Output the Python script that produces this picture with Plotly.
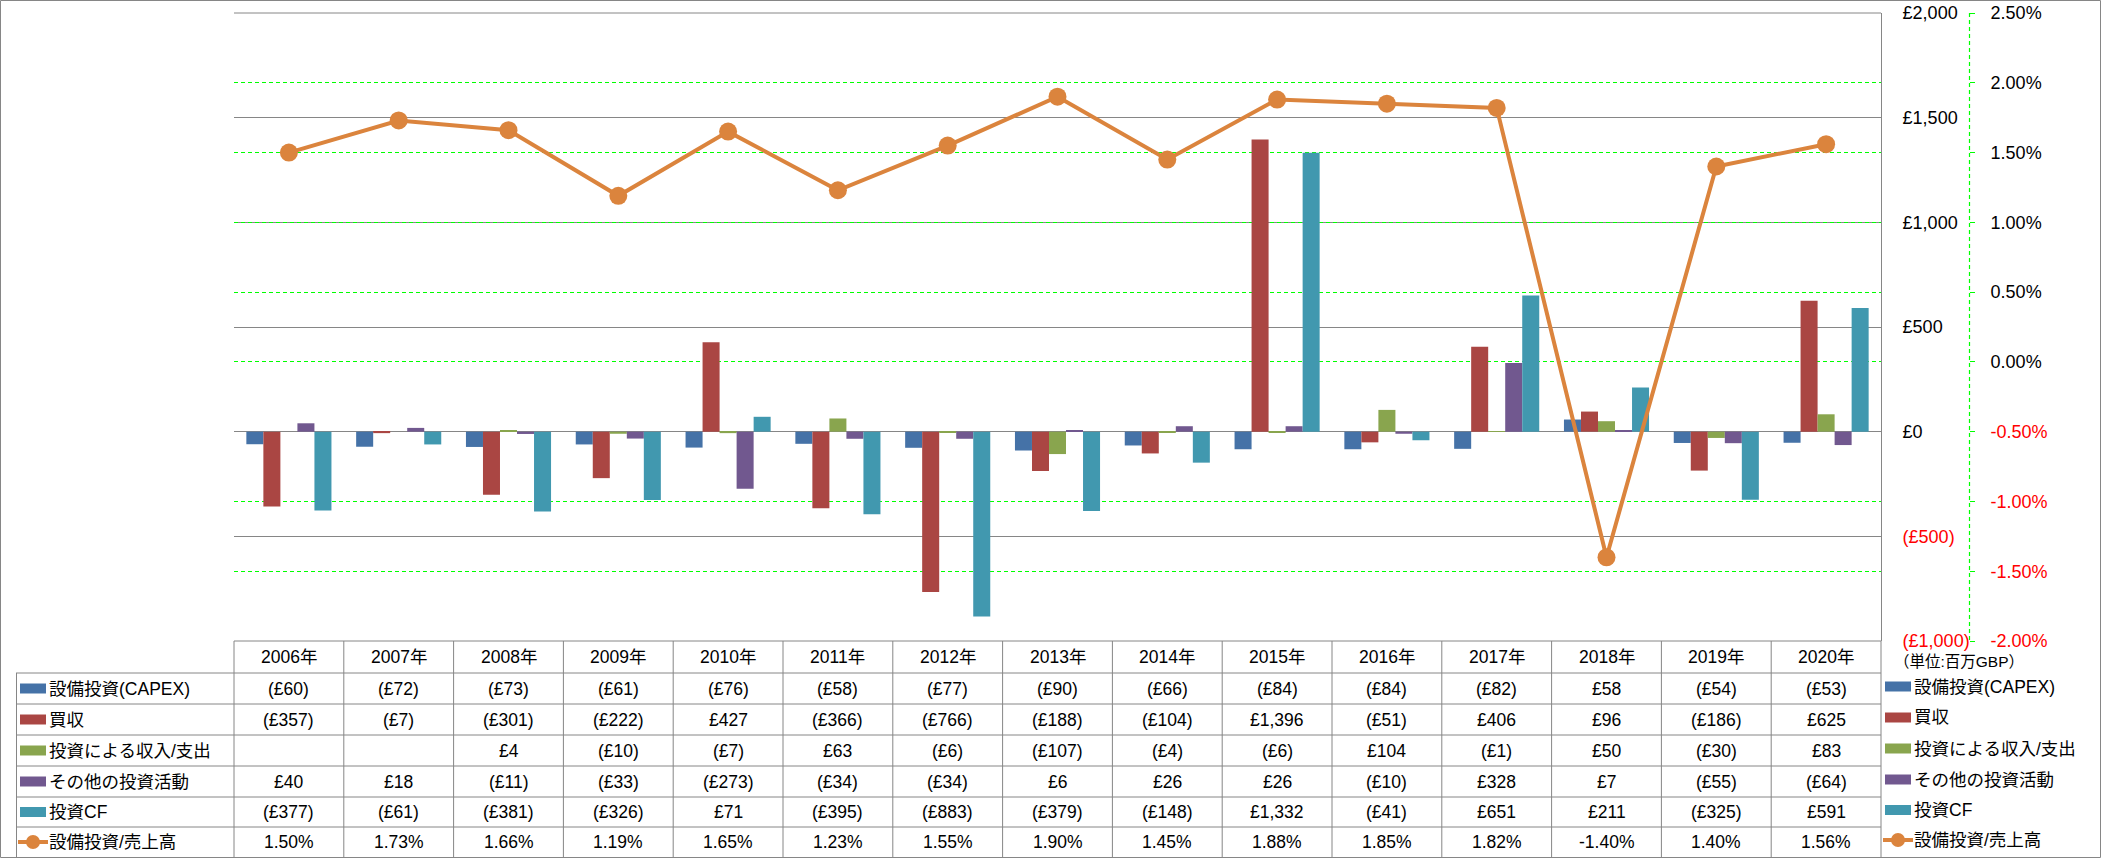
import plotly.graph_objects as go

# ---------------- data ----------------
years = ["2006年", "2007年", "2008年", "2009年", "2010年", "2011年", "2012年", "2013年",
         "2014年", "2015年", "2016年", "2017年", "2018年", "2019年", "2020年"]
capex = [-60, -72, -73, -61, -76, -58, -77, -90, -66, -84, -84, -82, 58, -54, -53]
acquisition = [-357, -7, -301, -222, 427, -366, -766, -188, -104, 1396, -51, 406, 96, -186, 625]
inv_income = [None, None, 4, -10, -7, 63, -6, -107, -4, -6, 104, -1, 50, -30, 83]
other_inv = [40, 18, -11, -33, -273, -34, -34, 6, 26, 26, -10, 328, 7, -55, -64]
inv_cf = [-377, -61, -381, -326, 71, -395, -883, -379, -148, 1332, -41, 651, 211, -325, 591]
capex_ratio = [1.50, 1.73, 1.66, 1.19, 1.65, 1.23, 1.55, 1.90, 1.45, 1.88, 1.85, 1.82, -1.40, 1.40, 1.56]

bar_names = ["設備投資(CAPEX)", "買収", "投資による収入/支出", "その他の投資活動", "投資CF"]
line_name = "設備投資/売上高"
unit_label = "（単位:百万GBP）"

left_ticks = [-1000, -500, 0, 500, 1000, 1500, 2000]
right_ticks = [-2.0, -1.5, -1.0, -0.5, 0.0, 0.5, 1.0, 1.5, 2.0, 2.5]

# ---------------- styles ----------------
bar_colors = ["#4572A7", "#AA4643", "#89A54E", "#71588F", "#4198AF"]
line_color = "#DB843D"
grey = "#868686"
green = "#00FF00"
red = "#FF0000"
FONT = "Liberation Sans, Noto Sans CJK JP, sans-serif"
TFS = 17.5

W, H = 2101, 858
PL, PR, PT, PB = 234, 1881, 13, 641


def px_x(x):
    return (x - PL) / (PR - PL)


def px_y(y):
    return (PB - y) / (PB - PT)


def fmt_money(v):
    if v is None:
        return ""
    s = "£{:,}".format(abs(v))
    return "(" + s + ")" if v < 0 else s


def fmt_pct(v):
    return "{:.2f}%".format(v)


def fmt_left_tick(v):
    s = fmt_money(v)
    return '<span style="color:%s">%s</span>' % (red, s) if v < 0 else s


def fmt_right_tick(v):
    s = fmt_pct(v)
    return '<span style="color:%s">%s</span>' % (red, s) if v < -0.001 else s


bar_series = [capex, acquisition, inv_income, other_inv, inv_cf]

fig = go.Figure()
for name, vals, col in zip(bar_names, bar_series, bar_colors):
    fig.add_trace(go.Bar(x=years, y=vals, name=name, marker=dict(color=col, line=dict(width=0)),
                         showlegend=False))
fig.add_trace(go.Scatter(x=years, y=capex_ratio, name=line_name, yaxis="y2", mode="lines+markers",
                         line=dict(color=line_color, width=4),
                         marker=dict(size=18, color=line_color), showlegend=False))

shapes = []
annotations = []


def hline(y, x0, x1, color=grey, width=1, layer="above", dash=None):
    d = dict(type="line", xref="paper", yref="paper", x0=px_x(x0), x1=px_x(x1), y0=px_y(y), y1=px_y(y),
             line=dict(color=color, width=width), layer=layer)
    if dash:
        d["line"]["dash"] = dash
    shapes.append(d)


def vline(x, y0, y1, color=grey, width=1, layer="above", dash=None):
    d = dict(type="line", xref="paper", yref="paper", x0=px_x(x), x1=px_x(x), y0=px_y(y0), y1=px_y(y1),
             line=dict(color=color, width=width), layer=layer)
    if dash:
        d["line"]["dash"] = dash
    shapes.append(d)


# outer border
shapes.append(dict(type="rect", xref="paper", yref="paper", x0=px_x(0.5), x1=px_x(2100.5),
                   y0=px_y(857.5), y1=px_y(0.5), line=dict(color=grey, width=1), layer="above"))
# top grid line in grey
hline(PT, PL, PR)
# secondary axis dashed line
vline(1969.5, PT, PB, color=green, width=1.2, dash="4px,3px")

# table geometry
row_edges = [673, 704, 735, 766, 797, 827, 857]
hline(PB, PL, PR)
for y in row_edges[:-1]:
    hline(y, 16, PR)
vline(16.5, row_edges[0], 857)
ncat = len(years)
for k in range(ncat + 1):
    x = PL + k * (PR - PL) / ncat
    vline(x, PB, 857)

# header
for yr in years:
    annotations.append(dict(x=yr, xref="x", y=px_y(657), yref="paper", text=yr, showarrow=False,
                            xanchor="center", yanchor="middle", font=dict(size=TFS, color="black", family=FONT)))

rows_text = [[fmt_money(v) for v in s] for s in bar_series] + [[fmt_pct(v) for v in capex_ratio]]
row_labels = bar_names + [line_name]
row_colors = bar_colors + [line_color]
for r in range(6):
    yc = (row_edges[r] + row_edges[r + 1]) / 2
    for yr, t in zip(years, rows_text[r]):
        if t:
            annotations.append(dict(x=yr, xref="x", y=px_y(yc), yref="paper", text=t, showarrow=False,
                                    xanchor="center", yanchor="middle",
                                    font=dict(size=TFS, color="black", family=FONT)))
    # left legend label
    annotations.append(dict(x=px_x(47), xref="paper", y=px_y(yc), yref="paper", text=row_labels[r],
                            showarrow=False, xanchor="left", yanchor="middle",
                            font=dict(size=TFS, color="black", family=FONT)))
    # right legend label
    yl = yc - 2
    annotations.append(dict(x=px_x(1912), xref="paper", y=px_y(yl), yref="paper", text=row_labels[r],
                            showarrow=False, xanchor="left", yanchor="middle",
                            font=dict(size=TFS, color="black", family=FONT)))
    for (kx0, kx1, ky) in [(20, 46, yc), (1885, 1911, yl)]:
        if r < 5:
            shapes.append(dict(type="rect", xref="paper", yref="paper", x0=px_x(kx0), x1=px_x(kx1),
                               y0=px_y(ky + 5), y1=px_y(ky - 5), fillcolor=row_colors[r],
                               line=dict(width=0), layer="above"))
        else:
            shapes.append(dict(type="line", xref="paper", yref="paper", x0=px_x(kx0 - 2), x1=px_x(kx1 + 2),
                               y0=px_y(ky), y1=px_y(ky), line=dict(color=line_color, width=4), layer="above"))
            cx = (kx0 + kx1) / 2
            shapes.append(dict(type="circle", xref="paper", yref="paper", x0=px_x(cx - 7), x1=px_x(cx + 7),
                               y0=px_y(ky + 7), y1=px_y(ky - 7), fillcolor=line_color,
                               line=dict(width=0), layer="above"))

annotations.append(dict(x=px_x(1892), xref="paper", y=px_y(661), yref="paper", text=unit_label,
                        showarrow=False, xanchor="left", yanchor="middle",
                        font=dict(size=15.5, color="black", family=FONT)))

fig.update_layout(
    width=W, height=H, template="none",
    margin=dict(l=PL, r=W - PR, t=PT, b=H - PB, pad=0),
    paper_bgcolor="white", plot_bgcolor="white",
    barmode="group", bargap=0.225, bargroupgap=0,
    font=dict(family=FONT, size=17, color="black"),
    xaxis=dict(type="category", range=[-0.5, ncat - 0.5], showticklabels=False, showgrid=False,
               zeroline=False, showline=False, ticks="", automargin=False, fixedrange=True),
    yaxis=dict(range=[-1000, 2000], side="right", tickvals=left_ticks,
               ticktext=[fmt_left_tick(v) for v in left_ticks],
               showgrid=True, gridcolor=grey, gridwidth=1, zeroline=True, zerolinecolor=grey,
               zerolinewidth=1, showline=True, linecolor=grey, linewidth=1, ticks="",
               ticklabelstandoff=17, tickfont=dict(size=18, family=FONT, color="black"),
               automargin=False, fixedrange=True),
    yaxis2=dict(range=[-2.0, 2.5], overlaying="y", side="right", anchor="free", position=1, shift=88,
                tickvals=right_ticks, ticktext=[fmt_right_tick(v) for v in right_ticks],
                showgrid=True, gridcolor=green, gridwidth=1.2, griddash="4px,3px", zeroline=False,
                showline=False, ticks="outside", ticklen=5, tickcolor=green, tickwidth=1,
                ticklabelstandoff=12, tickfont=dict(size=18, family=FONT, color="black"),
                automargin=False, fixedrange=True),
    shapes=shapes, annotations=annotations, showlegend=False,
)

fig.write_html("out.html", config={"displayModeBar": False},
               post_script="document.body.style.margin='0';document.body.style.overflow='hidden';")
